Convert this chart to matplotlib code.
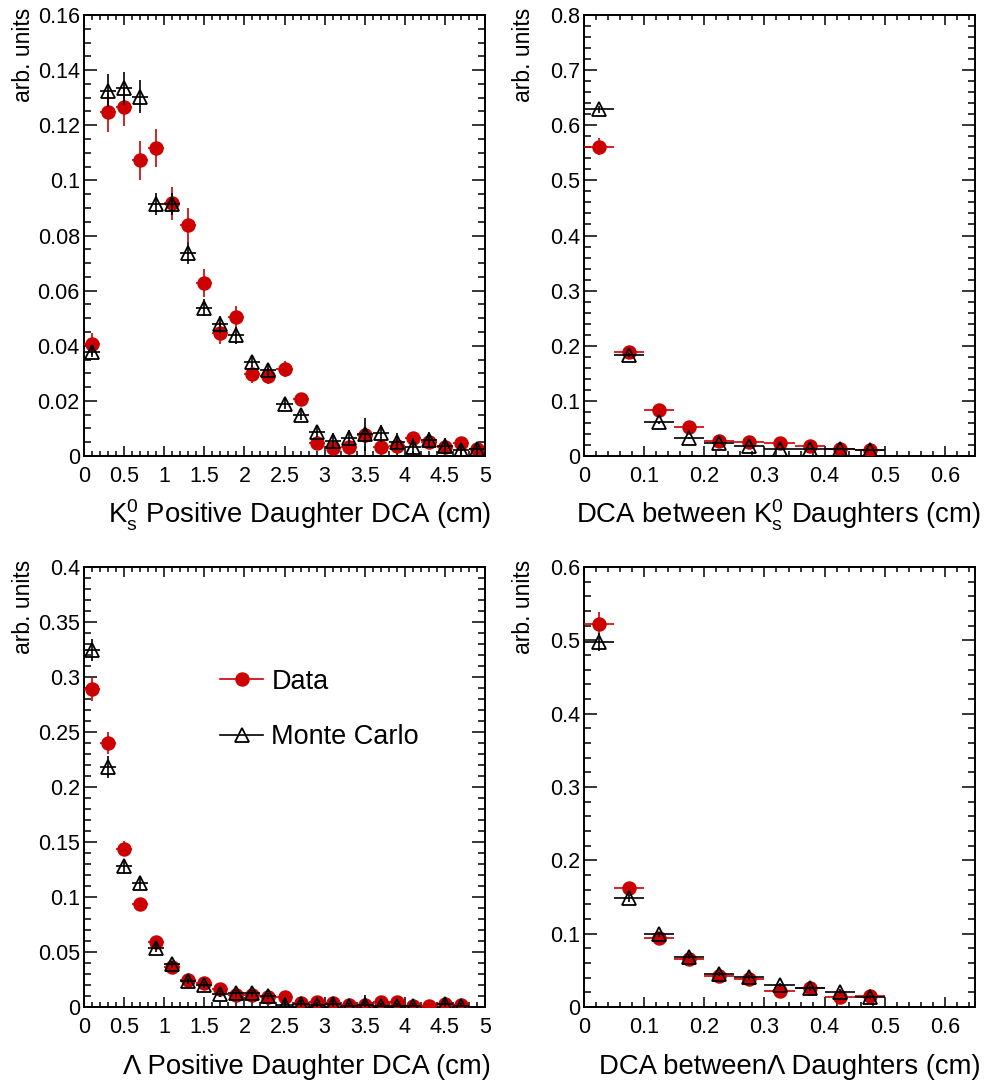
import numpy as np
import matplotlib
matplotlib.use('Agg')
import matplotlib.pyplot as plt
from matplotlib.lines import Line2D
from matplotlib.ticker import MultipleLocator, FuncFormatter

plt.rcParams['font.family'] = ['Liberation Sans', 'DejaVu Sans']
plt.rcParams['mathtext.fontset'] = 'custom'
plt.rcParams['mathtext.rm'] = 'Liberation Sans'
plt.rcParams['mathtext.it'] = 'Liberation Sans:italic'

red = '#cc0000'

# --- K0s positive daughter DCA (0.2 cm bins) ---
kpos_x = [0.1, 0.3, 0.5, 0.7, 0.9, 1.1, 1.3, 1.5, 1.7, 1.9, 2.1, 2.3, 2.5,
          2.7, 2.9, 3.1, 3.3, 3.5, 3.7, 3.9, 4.1, 4.3, 4.5, 4.7, 4.9]
kpos_data = [0.0405, 0.1247, 0.1268, 0.1073, 0.1117, 0.0917, 0.0838, 0.0627,
             0.0445, 0.0506, 0.0296, 0.0290, 0.0316, 0.0206, 0.0046, 0.0028,
             0.0034, 0.0076, 0.0034, 0.0037, 0.0064, 0.0050, 0.0034, 0.0046, 0.0024]
kpos_data_err = [0.004, 0.007, 0.007, 0.007, 0.007, 0.006, 0.006, 0.005,
                 0.004, 0.004, 0.003, 0.003, 0.003, 0.002, 0.001, 0.001,
                 0.001, 0.001, 0.001, 0.001, 0.001, 0.001, 0.001, 0.001, 0.001]
kpos_mc = [0.0379, 0.1326, 0.1334, 0.1304, 0.0915, 0.0914, 0.0735, 0.0538,
           0.0478, 0.0438, 0.0342, 0.0312, 0.0189, 0.0149, 0.0088, 0.0054,
           0.0066, 0.0079, 0.0082, 0.0052, 0.0034, 0.0058, 0.0037, 0.0022, 0.0024]
kpos_mc_err = [0.002, 0.006, 0.006, 0.006, 0.004, 0.004, 0.004, 0.003,
               0.003, 0.003, 0.002, 0.002, 0.002, 0.002, 0.002, 0.003,
               0.003, 0.006, 0.003, 0.003, 0.003, 0.003, 0.003, 0.002, 0.002]

# --- DCA between K0s daughters (0.05 cm bins) ---
kdd_x = [0.025, 0.075, 0.125, 0.175, 0.225, 0.275, 0.325, 0.375, 0.425, 0.475]
kdd_data = [0.561, 0.189, 0.083, 0.053, 0.028, 0.025, 0.023, 0.018, 0.012, 0.011]
kdd_data_err = [0.015, 0.005, 0.004, 0.003, 0.003, 0.003, 0.003, 0.002, 0.002, 0.002]
kdd_mc = [0.629, 0.183, 0.061, 0.032, 0.024, 0.018, 0.012, 0.013, 0.012, 0.011]
kdd_mc_err = [0.006, 0.004, 0.003, 0.002, 0.002, 0.002, 0.002, 0.002, 0.002, 0.002]

# --- Lambda positive daughter DCA (0.2 cm bins) ---
lpos_x = [0.1, 0.3, 0.5, 0.7, 0.9, 1.1, 1.3, 1.5, 1.7, 1.9, 2.1, 2.3,
          2.5, 2.7, 2.9, 3.1, 3.3, 3.5, 3.7, 3.9, 4.1, 4.3, 4.5, 4.7]
lpos_data = [0.289, 0.240, 0.144, 0.094, 0.059, 0.0366, 0.0245, 0.022,
             0.016, 0.011, 0.011, 0.0094, 0.0088, 0.004, 0.005, 0.004,
             0.002, 0.002, 0.0043, 0.0043, 0.0012, 0.0012, 0.003, 0.002]
lpos_data_err = [0.011, 0.010, 0.007, 0.004, 0.003, 0.003, 0.002, 0.002,
                 0.002, 0.002, 0.002, 0.002, 0.002, 0.002, 0.002, 0.002,
                 0.002, 0.002, 0.002, 0.002, 0.002, 0.002, 0.002, 0.002]
lpos_mc = [0.325, 0.218, 0.128, 0.113, 0.054, 0.0388, 0.0236, 0.020,
           0.012, 0.0124, 0.0125, 0.010, 0.002, 0.003, 0.002, 0.003,
           0.001, 0.002, 0.001, 0.001, 0.001, np.nan, 0.003, 0.0005]
lpos_mc_err = [0.010, 0.010, 0.007, 0.006, 0.004, 0.003, 0.003, 0.003,
               0.003, 0.003, 0.003, 0.003, 0.007, 0.003, 0.003, 0.003,
               0.003, 0.009, 0.003, 0.003, 0.003, 0.0, 0.006, 0.003]

# --- DCA between Lambda daughters (0.05 cm bins) ---
ldd_x = [0.025, 0.075, 0.125, 0.175, 0.225, 0.275, 0.325, 0.375, 0.425, 0.475]
ldd_data = [0.522, 0.162, 0.0945, 0.065, 0.042, 0.038, 0.022, 0.0255, 0.013, 0.0155]
ldd_data_err = [0.017, 0.008, 0.004, 0.004, 0.003, 0.003, 0.003, 0.003, 0.003, 0.003]
ldd_mc = [0.498, 0.148, 0.099, 0.0686, 0.045, 0.0405, 0.030, 0.0255, 0.021, 0.014]
ldd_mc_err = [0.012, 0.005, 0.003, 0.003, 0.003, 0.003, 0.003, 0.003, 0.003, 0.003]

W, H = 992, 1083
fig = plt.figure(figsize=(W / 100, H / 100), dpi=100)

fmt = FuncFormatter(lambda v, p: '%g' % round(v, 4))


def panel(rect, x, dx, d, de, m, me, xlim, ylim, xmaj, xmin, ymaj, ymin, xlabel):
    ax = fig.add_axes(rect)
    ax.errorbar(x, d, xerr=dx, yerr=de, fmt='o', color=red, ms=9.4,
                elinewidth=1.2, capsize=0, zorder=3)
    ax.errorbar(x, m, xerr=dx, yerr=me, fmt='^', color='k', mfc='none', mec='k',
                ms=10.5, mew=1.3, elinewidth=1.2, capsize=0, zorder=4)
    ax.set_xlim(*xlim)
    ax.set_ylim(*ylim)
    ax.xaxis.set_major_locator(MultipleLocator(xmaj))
    ax.xaxis.set_minor_locator(MultipleLocator(xmin))
    ax.yaxis.set_major_locator(MultipleLocator(ymaj))
    ax.yaxis.set_minor_locator(MultipleLocator(ymin))
    ax.xaxis.set_major_formatter(fmt)
    ax.yaxis.set_major_formatter(fmt)
    ax.tick_params(which='both', direction='in', top=True, right=True,
                   labelsize=15.5, width=1.1)
    ax.tick_params(axis='x', which='major', length=7.5, pad=7)
    ax.tick_params(axis='x', which='minor', length=3.8)
    ax.tick_params(axis='y', which='major', length=9.5, pad=3)
    ax.tick_params(axis='y', which='minor', length=5)
    for s in ax.spines.values():
        s.set_linewidth(1.4)
    ax.set_xlabel(xlabel, fontsize=19.8, ha='right', va='baseline')
    ax.xaxis.set_label_coords(1.015, -0.152)
    ax.set_ylabel('arb. units', fontsize=16.5, ha='right')
    return ax


left_l, w_l = 84 / W, 401 / W
left_r, w_r = 584 / W, 391 / W
top_b, h_t = 1 - 456 / H, 441 / H
bot_b, h_b = 1 - 1007 / H, 440 / H

ax1 = panel([left_l, top_b, w_l, h_t], kpos_x, 0.1, kpos_data, kpos_data_err,
            kpos_mc, kpos_mc_err, (0, 5), (0, 0.16), 0.5, 0.1, 0.02, 0.005,
            r'$\mathrm{K^{0}_{s}}$ Positive Daughter DCA (cm)')
ax1.yaxis.set_label_coords(-0.122, 1.016)

ax2 = panel([left_r, top_b, w_r, h_t], kdd_x, 0.025, kdd_data, kdd_data_err,
            kdd_mc, kdd_mc_err, (0, 0.65), (0, 0.8), 0.1, 0.02, 0.1, 0.02,
            r'DCA between $\mathrm{K^{0}_{s}}$ Daughters (cm)')
ax2.yaxis.set_label_coords(-0.125, 1.016)

ax3 = panel([left_l, bot_b, w_l, h_b], lpos_x, 0.1, lpos_data, lpos_data_err,
            lpos_mc, lpos_mc_err, (0, 5), (0, 0.4), 0.5, 0.1, 0.05, 0.01,
            'Λ Positive Daughter DCA (cm)')
ax3.yaxis.set_label_coords(-0.122, 1.016)

ax4 = panel([left_r, bot_b, w_r, h_b], ldd_x, 0.025, ldd_data, ldd_data_err,
            ldd_mc, ldd_mc_err, (0, 0.65), (0, 0.6), 0.1, 0.02, 0.1, 0.02,
            'DCA betweenΛ Daughters (cm)')
ax4.yaxis.set_label_coords(-0.125, 1.016)

handles = [Line2D([], [], color=red, marker='o', ms=9.4, lw=1.2),
           Line2D([], [], color='k', marker='^', ms=10.5, mew=1.3, mfc='none', lw=1.2)]
ax3.legend(handles, ['Data', 'Monte Carlo'], loc='upper left',
           bbox_to_anchor=(0.305, 0.8), frameon=False, fontsize=19.5,
           handlelength=1.6, handletextpad=0.3, labelspacing=1.1, borderpad=0)

fig.savefig('out.png', dpi=100)
